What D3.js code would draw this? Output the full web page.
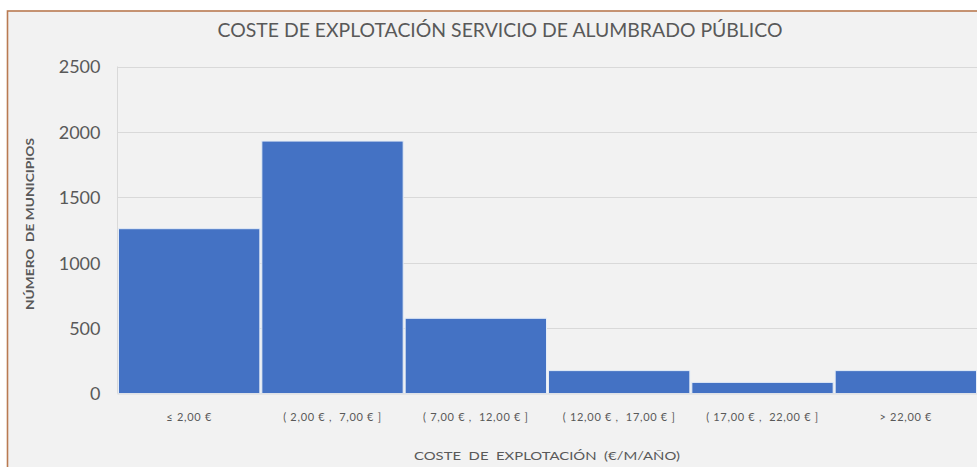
<!DOCTYPE html>
<html>
<head>
<meta charset="utf-8">
<script src="https://cdn.jsdelivr.net/npm/d3@7"></script>
<style>
  html, body { margin: 0; padding: 0; background: #ffffff; }
  svg { display: block; }
  text { font-family: Lato, "Open Sans", sans-serif; fill: #595959; white-space: pre; }
</style>
</head>
<body>
<svg id="chart" width="977" height="467"></svg>
<script>
const categories = ["≤ 2,00 €", "( 2,00 € ,  7,00 € ]", "( 7,00 € ,  12,00 € ]", "( 12,00 € ,  17,00 € ]", "( 17,00 € ,  22,00 € ]", "> 22,00 €"];
const values = [1260, 1930, 575, 175, 85, 175];
const yTicks = [0, 500, 1000, 1500, 2000, 2500];
const title = "COSTE DE EXPLOTACIÓN SERVICIO DE ALUMBRADO PÚBLICO";
const xTitle = "COSTE  DE  EXPLOTACIÓN  (€/M/AÑO)";
const yTitle = "NÚMERO  DE MUNICIPIOS";

const svg = d3.select("#chart");
const W = 977, H = 467;
const margin = { left: 117.5, right: -0.5, top: 66.5, bottom: 73.5 };

// frame
svg.append("rect")
  .attr("x", 7.5).attr("y", 11).attr("width", 1000).attr("height", 500)
  .attr("fill", "#F2F2F2").attr("stroke", "#B97A52").attr("stroke-width", 1.6);

const x = d3.scaleBand().domain(categories)
  .range([margin.left, W - margin.right]).padding(0);
const y = d3.scaleLinear().domain([0, 2500]).range([H - margin.bottom, margin.top]);

// gridlines
svg.append("g").selectAll("line").data(yTicks.filter(d => d > 0)).join("line")
  .attr("x1", margin.left).attr("x2", W + 5)
  .attr("y1", d => Math.round(y(d)) + 0.5).attr("y2", d => Math.round(y(d)) + 0.5)
  .attr("stroke", "#D9D9D9").attr("stroke-width", 1);

// vertical axis line
svg.append("line")
  .attr("x1", margin.left).attr("x2", margin.left)
  .attr("y1", y(2500)).attr("y2", y(0))
  .attr("stroke", "#D9D9D9");

// y tick labels
const yAxis = d3.axisLeft(y).tickValues(yTicks).tickFormat(d3.format("d")).tickSize(0).tickPadding(17);
const gy = svg.append("g").attr("transform", `translate(${margin.left},0)`).call(yAxis);
gy.select(".domain").remove();
gy.selectAll("text").style("font-size", "18px").style("fill", "#595959")
  .style("font-family", "Lato, sans-serif").attr("dy", "0.36em");

// bars
svg.append("g").selectAll("rect").data(values).join("rect")
  .attr("x", (d, i) => x(categories[i]) + 1)
  .attr("width", x.bandwidth() - 2)
  .attr("y", d => y(d))
  .attr("height", d => y(0) - y(d))
  .attr("fill", "#4472C4")
  .attr("stroke", "#E4ECF7").attr("stroke-width", 1);

// baseline
svg.append("line")
  .attr("x1", margin.left).attr("x2", W + 5)
  .attr("y1", y(0) + 0.5).attr("y2", y(0) + 0.5)
  .attr("stroke", "#D9D9D9");

// x tick labels
const xAxis = d3.axisBottom(x).tickSize(0).tickPadding(20);
const gx = svg.append("g").attr("transform", `translate(0,${y(0)})`).call(xAxis);
gx.select(".domain").remove();
gx.selectAll("text").style("font-size", "11px").style("fill", "#595959")
  .style("letter-spacing", "0.7px").style("white-space", "pre")
  .style("font-family", "Lato, sans-serif");

// title
svg.append("text")
  .attr("x", 500).attr("y", 37)
  .attr("text-anchor", "middle")
  .attr("textLength", 565).attr("lengthAdjust", "spacingAndGlyphs")
  .style("font-size", "19px")
  .text(title);

// x title
svg.append("text")
  .attr("x", 547).attr("y", 460)
  .attr("text-anchor", "middle")
  .attr("textLength", 266).attr("lengthAdjust", "spacingAndGlyphs")
  .style("font-size", "12px")
  .text(xTitle);

// y title
svg.append("text")
  .attr("transform", "translate(34,224) rotate(-90)")
  .attr("text-anchor", "middle")
  .attr("textLength", 172).attr("lengthAdjust", "spacingAndGlyphs")
  .style("font-size", "11.5px").style("font-weight", "bold")
  .text(yTitle);
</script>
</body>
</html>
